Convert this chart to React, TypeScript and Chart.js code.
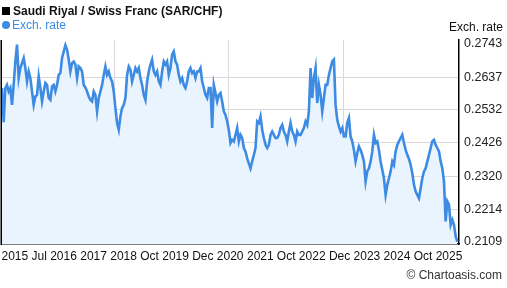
import React, { useEffect, useRef } from "react";
import { Chart, registerables } from "chart.js";

Chart.register(...registerables);

const TITLE = "Saudi Riyal / Swiss Franc (SAR/CHF)";
const SERIES_NAME = "Exch. rate";
const CREDIT = "© Chartoasis.com";

// Exchange rate (oldest → newest), in five stretches
const rate2015to2017 = [
  0.2602, 0.2493, 0.2602, 0.2612, 0.2591, 0.2602, 0.2548, 0.2612, 0.2687, 0.2741,
  0.2634, 0.2666, 0.2682, 0.2698, 0.2666, 0.2623, 0.2655, 0.2634, 0.2591, 0.2548,
  0.2575, 0.2580, 0.2639, 0.2602, 0.2559, 0.2591, 0.2618, 0.2612, 0.2570, 0.2564,
  0.2607, 0.2612, 0.2591, 0.2612, 0.2644, 0.2650, 0.2698, 0.2719, 0.2739, 0.2725,
  0.2693, 0.2655, 0.2682, 0.2687, 0.2677, 0.2634, 0.2671, 0.2666, 0.2655, 0.2612,
  0.2604, 0.2591, 0.2575, 0.2564, 0.2559,
];
const rate2017to2019 = [
  0.2591, 0.2580, 0.2527, 0.2570, 0.2591, 0.2612, 0.2644, 0.2671, 0.2644, 0.2655,
  0.2634, 0.2623, 0.2591, 0.2538, 0.2490, 0.2468, 0.2511, 0.2538, 0.2548, 0.2570,
  0.2644, 0.2671, 0.2661, 0.2623, 0.2644, 0.2666, 0.2655, 0.2666, 0.2634, 0.2612,
  0.2580, 0.2564, 0.2623, 0.2655, 0.2677, 0.2693, 0.2655, 0.2644, 0.2655, 0.2623,
  0.2612, 0.2655, 0.2687, 0.2677, 0.2687, 0.2644, 0.2666, 0.2709, 0.2719, 0.2687,
  0.2677, 0.2644, 0.2623, 0.2634, 0.2612,
];
const rate2019to2021 = [
  0.2602, 0.2623, 0.2655, 0.2666, 0.2650, 0.2655, 0.2634, 0.2655, 0.2655, 0.2666,
  0.2623, 0.2602, 0.2580, 0.2570, 0.2602, 0.2602, 0.2474, 0.2612, 0.2586, 0.2559,
  0.2580, 0.2586, 0.2559, 0.2527, 0.2516, 0.2495, 0.2468, 0.2426, 0.2436, 0.2431,
  0.2452, 0.2474, 0.2431, 0.2452, 0.2442, 0.2410, 0.2399, 0.2377, 0.2361, 0.2345,
  0.2367, 0.2388, 0.2410, 0.2495, 0.2490, 0.2511, 0.2468, 0.2442, 0.2420, 0.2410,
  0.2420, 0.2452, 0.2463, 0.2452, 0.2442,
];
const rate2021to2023 = [
  0.2442, 0.2452, 0.2474, 0.2484, 0.2463, 0.2452, 0.2431, 0.2463, 0.2490, 0.2463,
  0.2452, 0.2431, 0.2463, 0.2452, 0.2452, 0.2463, 0.2474, 0.2495, 0.2484, 0.2527,
  0.2666, 0.2570, 0.2634, 0.2666, 0.2554, 0.2612, 0.2580, 0.2527, 0.2570, 0.2612,
  0.2612, 0.2644, 0.2666, 0.2687, 0.2693, 0.2548, 0.2500, 0.2479, 0.2463, 0.2474,
  0.2447, 0.2447, 0.2490, 0.2506, 0.2447, 0.2431, 0.2404, 0.2367, 0.2393, 0.2415,
  0.2404, 0.2388, 0.2367, 0.2303, 0.2335,
];
const rate2023to2025 = [
  0.2345, 0.2367, 0.2399, 0.2452, 0.2426, 0.2431, 0.2404, 0.2367, 0.2340, 0.2313,
  0.2260, 0.2292, 0.2313, 0.2335, 0.2367, 0.2356, 0.2399, 0.2420, 0.2431, 0.2442,
  0.2452, 0.2426, 0.2404, 0.2388, 0.2375, 0.2356, 0.2329, 0.2292, 0.2271, 0.2260,
  0.2249, 0.2281, 0.2313, 0.2335, 0.2345, 0.2367, 0.2388, 0.2410, 0.2431, 0.2436,
  0.2420, 0.2410, 0.2399, 0.2367, 0.2345, 0.2303, 0.2175, 0.2239, 0.2228, 0.2164,
  0.2180, 0.2164, 0.2127, 0.2110,
];

// Right-axis tick values
const Y_TICKS = [0.2109, 0.2214, 0.232, 0.2426, 0.2532, 0.2637, 0.2743];
const Y_MIN = 0.21026;
const Y_MAX = 0.27558;

// X tick labels and where they sit along the sample index
const X_LABELS = ["2015", "Jul 2016", "2017", "2018", "Oct 2019", "Dec 2020", "2021", "Oct 2022", "Dec 2023", "2024", "Oct 2025"];
const X_LABEL_AT = [7.7, 31.3, 54.9, 72.9, 97.5, 129.4, 154.9, 179.4, 211.4, 236.8, 261.4];
// Vertical grid lines
const X_GRID_AT = [67.7, 136.1, 205.0];

const FONT = "'Liberation Sans', Arial, sans-serif";
const LINE_COLOR = "#3d8be2";
const FILL_COLOR = "#eaf4fe";

export default function App() {
  const canvasRef = useRef<HTMLCanvasElement | null>(null);

  useEffect(() => {
    document.body.style.margin = "0";
    const rates = [
      ...rate2015to2017,
      ...rate2017to2019,
      ...rate2019to2021,
      ...rate2021to2023,
      ...rate2023to2025,
    ];
    const points = rates.map((v, i) => ({ x: i, y: v }));
    const xMax = rates.length;

    const overlay = {
      id: "overlay",
      afterDraw(chart: any) {
        const ctx = chart.ctx;
        const a = chart.chartArea;
        ctx.save();
        // left border
        ctx.strokeStyle = "#000";
        ctx.lineWidth = 1.5;
        ctx.beginPath();
        ctx.moveTo(a.left - 0.75, a.top);
        ctx.lineTo(a.left - 0.75, a.bottom + 1);
        ctx.stroke();
        ctx.textBaseline = "middle";
        // title
        ctx.fillStyle = "#000";
        ctx.fillRect(2, 7, 8, 8);
        ctx.font = `bold 12px ${FONT}`;
        ctx.textAlign = "left";
        ctx.fillStyle = "#111";
        ctx.fillText(TITLE, 13, 11.5);
        // legend
        ctx.fillStyle = LINE_COLOR;
        ctx.beginPath();
        ctx.arc(6, 25, 4, 0, Math.PI * 2);
        ctx.fill();
        ctx.font = `12px ${FONT}`;
        ctx.fillText(SERIES_NAME, 12, 25.5);
        // axis caption
        ctx.fillStyle = "#111";
        ctx.textAlign = "right";
        ctx.fillText(SERIES_NAME, 503, 28);
        // credit
        ctx.fillStyle = "#333";
        ctx.fillText(CREDIT, 502, 275.5);
        ctx.restore();
      },
    };

    const chart = new Chart(canvasRef.current as HTMLCanvasElement, {
      type: "line",
      data: {
        datasets: [
          {
            label: SERIES_NAME,
            data: points,
            borderColor: LINE_COLOR,
            backgroundColor: FILL_COLOR,
            borderWidth: 2.6,
            pointRadius: 0,
            fill: "start",
            tension: 0,
            xAxisID: "x",
            yAxisID: "y",
          },
        ],
      },
      options: {
        responsive: false,
        animation: false,
        devicePixelRatio: 1,
        layout: { padding: { left: 2, right: 0, top: 0, bottom: 0 } },
        plugins: {
          legend: { display: false },
          title: { display: false },
          tooltip: { enabled: false },
        },
        scales: {
          x: {
            type: "linear",
            position: "bottom",
            min: 0,
            max: xMax,
            afterBuildTicks: (scale: any) => {
              scale.ticks = X_LABEL_AT.map((v) => ({ value: v }));
            },
            afterFit: (scale: any) => {
              scale.height = 44;
              scale.paddingLeft = 0;
              scale.paddingRight = 0;
            },
            ticks: {
              autoSkip: false,
              maxRotation: 0,
              minRotation: 0,
              padding: 5,
              color: "#111",
              font: { family: FONT, size: 12 },
              callback: (_v: any, i: number) => X_LABELS[i],
            },
            grid: { display: false, drawTicks: false },
            border: { display: true, color: "#000", width: 1.5 },
          },
          xg: {
            type: "linear",
            position: "top",
            min: 0,
            max: xMax,
            afterBuildTicks: (scale: any) => {
              scale.ticks = X_GRID_AT.map((v) => ({ value: v }));
            },
            afterFit: (scale: any) => {
              scale.height = 40;
              scale.paddingLeft = 0;
              scale.paddingRight = 0;
            },
            ticks: { display: false },
            grid: { color: "#d9d9d9", lineWidth: 1, drawTicks: false },
            border: { display: false },
          },
          y: {
            type: "linear",
            position: "right",
            min: Y_MIN,
            max: Y_MAX,
            afterBuildTicks: (scale: any) => {
              scale.ticks = Y_TICKS.map((v) => ({ value: v }));
            },
            afterFit: (scale: any) => {
              scale.width = 48;
            },
            ticks: {
              padding: 5,
              color: "#222",
              font: { family: FONT, size: 12.5 },
              callback: (v: any) => Number(v).toFixed(4),
            },
            grid: {
              drawTicks: false,
              lineWidth: 1,
              color: (c: any) =>
                c.tick && (c.tick.value === Y_TICKS[0] || c.tick.value === Y_TICKS[Y_TICKS.length - 1])
                  ? "rgba(0,0,0,0)"
                  : "#d9d9d9",
            },
            border: { display: true, color: "#000", width: 1.5 },
          },
        },
      },
      plugins: [overlay],
    } as any);

    return () => chart.destroy();
  }, []);

  return (
    <div style={{ position: "relative", width: 507, height: 288 }}>
      <canvas ref={canvasRef} width={507} height={288} style={{ display: "block" }} />
    </div>
  );
}
